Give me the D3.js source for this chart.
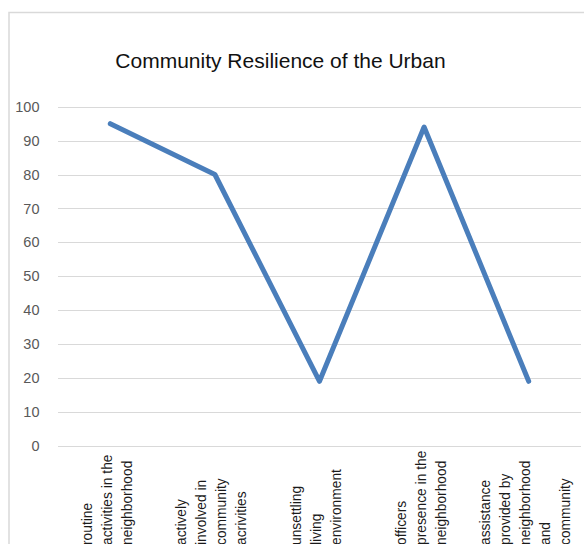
<!DOCTYPE html>
<html>
<head>
<meta charset="utf-8">
<script src="https://cdn.jsdelivr.net/npm/d3@7"></script>
<style>
  html, body { margin: 0; padding: 0; background: #fff; }
  svg { display: block; }
</style>
</head>
<body>
<svg id="chart" width="584" height="544"></svg>
<script>
// Category labels, one array of wrapped lines per category (text as written)
const categories = [
  ["routine", "activities in the", "neighborhood"],
  ["actively", "involved in", "community", "acrivities"],
  ["unsettling", "living", "environment"],
  ["officers", "presence in the", "neighborhood"],
  ["assistance", "provided by", "neighborhood", "and", "community"]
];
const values = [95, 80, 19, 94, 19];
const yTicks = [0, 10, 20, 30, 40, 50, 60, 70, 80, 90, 100];
const title = "Community Resilience of the Urban";

const plot = { left: 58, right: 581, top: 106.7, bottom: 445.7 };
const font = "'Liberation Sans', Arial, sans-serif";

const svg = d3.select("#chart");

// chart frame (extends past the visible edges)
svg.append("rect")
  .attr("x", 9).attr("y", 12.5)
  .attr("width", 700).attr("height", 700)
  .attr("fill", "#fff")
  .attr("stroke", "#d9d9d9").attr("stroke-width", 1.5);

const x = d3.scaleBand()
  .domain(d3.range(categories.length))
  .range([plot.left, plot.right]);

const y = d3.scaleLinear()
  .domain([0, 100])
  .range([plot.bottom, plot.top]);

// horizontal gridlines
svg.append("g")
  .selectAll("line")
  .data(yTicks)
  .join("line")
  .attr("x1", plot.left).attr("x2", plot.right)
  .attr("y1", d => Math.round(y(d)) + 0.5)
  .attr("y2", d => Math.round(y(d)) + 0.5)
  .attr("stroke", "#d9d9d9").attr("stroke-width", 1);

// y axis labels
const yAxis = d3.axisLeft(y).tickValues(yTicks).tickSize(0).tickPadding(0);
const yg = svg.append("g")
  .attr("transform", `translate(39.5,0)`)
  .call(yAxis);
yg.select(".domain").remove();
yg.selectAll("text")
  .attr("font-family", font)
  .attr("font-size", 14.5)
  .attr("fill", "#595959");

// title
svg.append("text")
  .attr("x", 280.5).attr("y", 68)
  .attr("text-anchor", "middle")
  .attr("font-family", font)
  .attr("font-size", 21)
  .attr("fill", "#111")
  .text(title);

// series line
const line = d3.line()
  .x((d, i) => x(i) + x.bandwidth() / 2)
  .y(d => y(d));

svg.append("path")
  .datum(values)
  .attr("d", line)
  .attr("fill", "none")
  .attr("stroke", "#4a7ebb")
  .attr("stroke-width", 5)
  .attr("stroke-linejoin", "round")
  .attr("stroke-linecap", "round");

// rotated, wrapped category labels
const lineGap = 20;
const labelStart = 545;
const xl = svg.append("g");
categories.forEach((lines, i) => {
  const cx = x(i) + x.bandwidth() / 2;
  const n = lines.length;
  const t = xl.append("text")
    .attr("transform", `translate(0,${labelStart}) rotate(-90)`)
    .attr("font-family", font)
    .attr("font-size", 13.8)
    .attr("fill", "#1a1a1a")
    .attr("text-anchor", "start");
  lines.forEach((s, j) => {
    t.append("tspan")
      .attr("x", 0)
      .attr("y", cx + (j - (n - 1) / 2) * lineGap + 1.5)
      .text(s);
  });
});
</script>
</body>
</html>
